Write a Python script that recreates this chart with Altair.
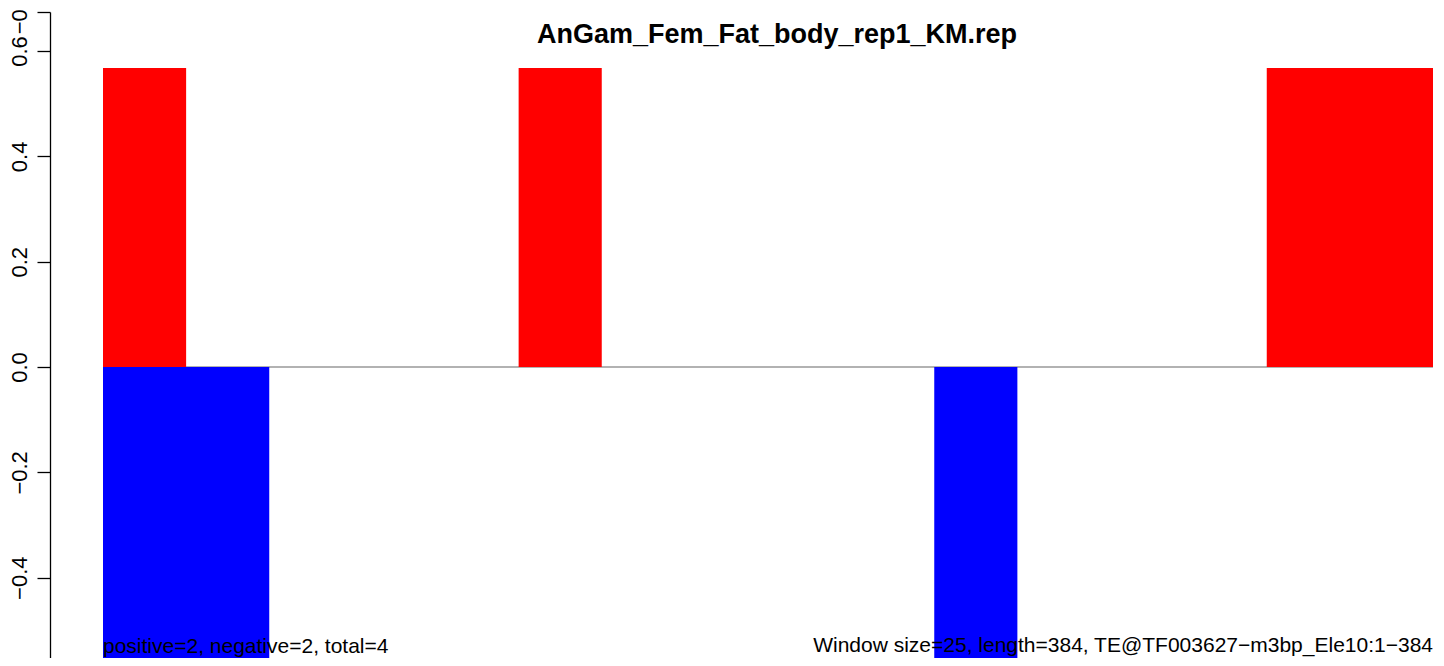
import altair as alt
import pandas as pd

# ---- data ----
bin_start = [0, 24, 48, 72, 96, 120, 144, 168, 192, 216, 240, 264, 288, 312, 336, 360]
bin_width = 24
pos_vals = [0.5677, 0, 0, 0, 0, 0.5677, 0, 0, 0, 0, 0, 0, 0, 0, 0.5677, 0.5677]
neg_vals = [-0.5677, -0.5677, 0, 0, 0, 0, 0, 0, 0, 0, -0.5677, 0, 0, 0, 0, 0]
seq_length = 384

title_text = "AnGam_Fem_Fat_body_rep1_KM.rep"
left_note = "positive=2, negative=2, total=4"
right_note = "Window size=25, length=384, TE@TF003627\u2212m3bp_Ele10:1\u2212384"

tick_values = [0.674, 0.6, 0.4, 0.2, 0.0, -0.2, -0.4]


def runs(values, sign):
    """Merge adjacent non-zero bins of equal height into single bars (no seams)."""
    out = []
    for s, v in zip(bin_start, values):
        if v == 0:
            continue
        if out and out[-1]["end"] == s and out[-1]["v1"] == v:
            out[-1]["end"] = s + bin_width
        else:
            out.append({"start": s, "end": s + bin_width, "v0": 0.0, "v1": v, "sign": sign})
    return out


bars_df = pd.DataFrame(runs(pos_vals, "pos") + runs(neg_vals, "neg"))
zero_df = pd.DataFrame({"x0": [0], "x1": [seq_length], "y": [0.0]})

W = 1330
H = 646
FONT = "Liberation Sans"

xscale = alt.Scale(domain=[0, seq_length], nice=False, zero=False)
yscale = alt.Scale(domain=[-0.5525, 0.6741], nice=False, zero=False)

zero_line = alt.Chart(zero_df).mark_rule(color="#999999", strokeWidth=1.6).encode(
    x=alt.X("x0:Q", scale=xscale, axis=None),
    x2="x1:Q",
    y=alt.Y("y:Q", scale=yscale),
)

bars = alt.Chart(bars_df).mark_rect(clip=True).encode(
    x=alt.X("start:Q", scale=xscale, axis=None),
    x2="end:Q",
    y=alt.Y(
        "v0:Q",
        scale=yscale,
        title=None,
        axis=alt.Axis(
            values=tick_values,
            labelExpr="datum.value > 0.65 ? '\u22120.6' : replace(format(datum.value, '.1f'), '-', '\u2212')",
            offset=53,
            tickSize=13,
            labelAngle=270,
            labelAlign="center",
            labelBaseline="bottom",
            labelPadding=6,
            labelFont=FONT,
            labelFontSize=22,
            labelColor="black",
            domainColor="black",
            tickColor="black",
            domainWidth=1.3,
            tickWidth=1.3,
            grid=False,
            labelOverlap=False,
            labelFlush=False,
            labelBound=False,
        ),
    ),
    y2="v1:Q",
    color=alt.Color(
        "sign:N",
        scale=alt.Scale(domain=["pos", "neg"], range=["#FF0000", "#0000FF"]),
        legend=None,
    ),
)

title = alt.Chart(pd.DataFrame({"t": [title_text]})).mark_text(
    font=FONT, fontSize=27, fontWeight="bold", align="center", baseline="alphabetic", color="black"
).encode(x=alt.value(W / 2 + 9), y=alt.value(31), text="t:N")

note_l = alt.Chart(pd.DataFrame({"t": [left_note]})).mark_text(
    font=FONT, fontSize=21, align="left", baseline="alphabetic", color="black"
).encode(x=alt.value(0), y=alt.value(641), text="t:N")

note_r = alt.Chart(pd.DataFrame({"t": [right_note]})).mark_text(
    font=FONT, fontSize=21, align="right", baseline="alphabetic", color="black"
).encode(x=alt.value(W), y=alt.value(640), text="t:N")

chart = (
    alt.layer(zero_line, bars, title, note_l, note_r)
    .properties(
        width=W,
        height=H,
        autosize=alt.AutoSizeParams(type="none"),
        padding={"left": 95, "top": 4, "right": 3, "bottom": 0},
        background="white",
    )
    .configure_view(stroke=None)
)

chart.save("out.html", embed_options={"renderer": "svg", "actions": False})
